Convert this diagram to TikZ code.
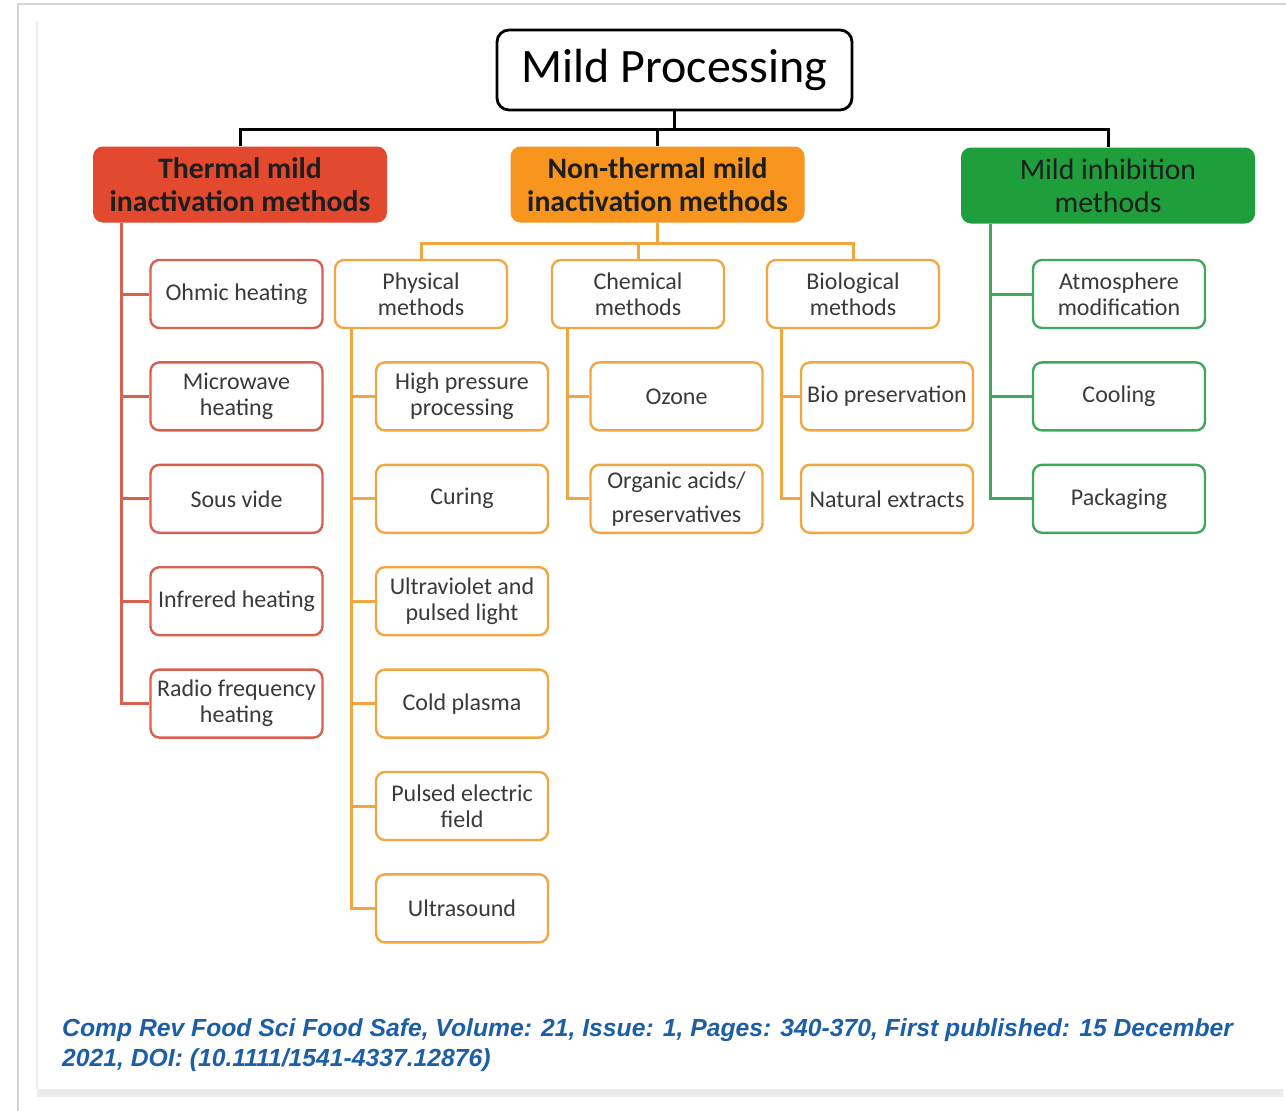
\documentclass[tikz,border=0pt]{standalone}
\usepackage{fontspec}
\setmainfont{Carlito}
\newfontfamily\citefont{Liberation Sans}
\usepackage{tikz}
\usepackage{xcolor}

\definecolor{thermfill}{HTML}{E2492F}
\definecolor{thermline}{HTML}{D8604F}
\definecolor{ntfill}{HTML}{F7951E}
\definecolor{ntline}{HTML}{F2A640}
\definecolor{inhfill}{HTML}{1F9E3C}
\definecolor{inhline}{HTML}{3FA95B}
\definecolor{headtext}{HTML}{1E1E1E}
\definecolor{leaftext}{HTML}{3A3A3A}
\definecolor{citeblue}{HTML}{1D5FA6}
\definecolor{framegray}{HTML}{D4D4D4}
\definecolor{bandgray}{HTML}{ECECEC}

\begin{document}
\begin{tikzpicture}[x=1pt,y=-1pt,
  wire/.style={line width=3pt},
  leaf/.style={draw, line width=2.4pt, rounded corners=9pt, fill=white, text=leaftext,
    minimum width=172pt, minimum height=68pt, inner sep=1pt, align=center,
    font=\fontsize{24}{26}\selectfont},
  head/.style={rounded corners=10pt, minimum width=294pt, minimum height=76pt,
    align=center, text=headtext, font=\fontsize{29.7}{33}\selectfont\bfseries}]
  \useasboundingbox (0,0) rectangle (1286,1111);
  \fill[white] (0,0) rectangle (1286,1111);

  % Page frame
  \draw[framegray, line width=1.5pt] (18,1111) -- (18,4) -- (1286,4);
  \draw[bandgray, line width=2pt] (37,22) -- (37,1089);
  \fill[bandgray] (37,1089) rectangle (1283,1097);

  % Root and the three families
  \node[draw, line width=2.8pt, rounded corners=12pt, minimum width=355pt, minimum height=80pt,
    font=\fontsize{48}{52}\selectfont] (root) at (674.5,70) {Mild Processing};
  \node[head, fill=thermfill] (thermal) at (240,184.5) {Thermal mild\\inactivation methods};
  \node[head, fill=ntfill] (nonthermal) at (657.5,184.5) {Non-thermal mild\\inactivation methods};
  \node[head, fill=inhfill, font=\fontsize{29.7}{33}\selectfont] (inhibit) at (1108,185.5) {Mild inhibition\\methods};

  \draw[wire] (root.south) -- ++(0,18) coordinate (rootbus);
  \draw[wire] (thermal.north) |- (rootbus) -| (inhibit.north);
  \draw[wire] (nonthermal.north) -- (nonthermal.north |- rootbus);

  % Thermal branch
  \coordinate (rtrunk) at ([xshift=29pt]thermal.south west);
  \foreach \name/\txt [count=\i] in {ohmic/{Ohmic heating}, micro/{Microwave\\heating},
      sous/{Sous vide}, infra/{Infrered heating}, radio/{Radio frequency\\heating}}{
    \node[leaf, draw=thermline] (\name) at (236.5,{191.6+102.4*\i}) {\txt};
    \draw[wire, thermline] (\name.west) -- (\name.west -| rtrunk);
  }
  \draw[wire, thermline] (rtrunk) |- (radio.west);

  % Non-thermal branch
  \node[leaf, draw=ntline] (physical) at (421,294) {Physical\\methods};
  \node[leaf, draw=ntline] (chemical) at (638,294) {Chemical\\methods};
  \node[leaf, draw=ntline] (biological) at (853,294) {Biological\\methods};
  \draw[wire, ntline] (nonthermal.south) -- ++(0,21) coordinate (ntbus);
  \draw[wire, ntline] (physical.north) |- (ntbus) -| (biological.north);
  \draw[wire, ntline] (chemical.north) -- (chemical.north |- ntbus);

  \coordinate (ptrunk) at ([xshift=18pt]physical.south west);
  \foreach \name/\txt [count=\i] in {hpp/{High pressure\\processing}, curing/Curing,
      uvlight/{Ultraviolet and\\pulsed light}, plasma/{Cold plasma},
      pef/{Pulsed electric\\field}, usound/Ultrasound}{
    \node[leaf, draw=ntline] (\name) at (462,{294+102.4*\i}) {\txt};
    \draw[wire, ntline] (\name.west) -- (\name.west -| ptrunk);
  }
  \draw[wire, ntline] (ptrunk) |- (usound.west);

  \coordinate (ctrunk) at ([xshift=17pt]chemical.south west);
  \node[leaf, draw=ntline] (ozone) at (676.5,396.4) {Ozone};
  \node[leaf, draw=ntline] (acids) at (676.5,498.8) {Organic acids/\\[8pt]preservatives};
  \draw[wire, ntline] (ozone.west) -- (ozone.west -| ctrunk);
  \draw[wire, ntline] (ctrunk) |- (acids.west);

  \coordinate (btrunk) at ([xshift=16pt]biological.south west);
  \node[leaf, draw=ntline] (biopres) at (887,396.4) {Bio preservation};
  \node[leaf, draw=ntline] (extracts) at (887,498.8) {Natural extracts};
  \draw[wire, ntline] (biopres.west) -- (biopres.west -| btrunk);
  \draw[wire, ntline] (btrunk) |- (extracts.west);

  % Inhibition branch
  \coordinate (gtrunk) at ([xshift=30pt]inhibit.south west);
  \foreach \name/\txt [count=\i] in {atmos/{Atmosphere\\modification}, cooling/Cooling,
      packaging/Packaging}{
    \node[leaf, draw=inhline] (\name) at (1119,{191.6+102.4*\i}) {\txt};
    \draw[wire, inhline] (\name.west) -- (\name.west -| gtrunk);
  }
  \draw[wire, inhline] (gtrunk) |- (packaging.west);

  % Source line
  \node[anchor=base west, inner sep=0pt, text=citeblue, font=\citefont\fontsize{24.7}{29}\selectfont\bfseries\itshape]
    (cite1) at (62,1036) {Comp Rev Food Sci Food Safe, Volume: 21, Issue: 1, Pages: 340-370, First published: 15 December};
  \node[anchor=base west, inner sep=0pt, text=citeblue, font=\citefont\fontsize{24.7}{29}\selectfont\bfseries\itshape]
    (cite2) at (62,1066) {2021, DOI: (10.1111/1541-4337.12876)};
\end{tikzpicture}
\end{document}
